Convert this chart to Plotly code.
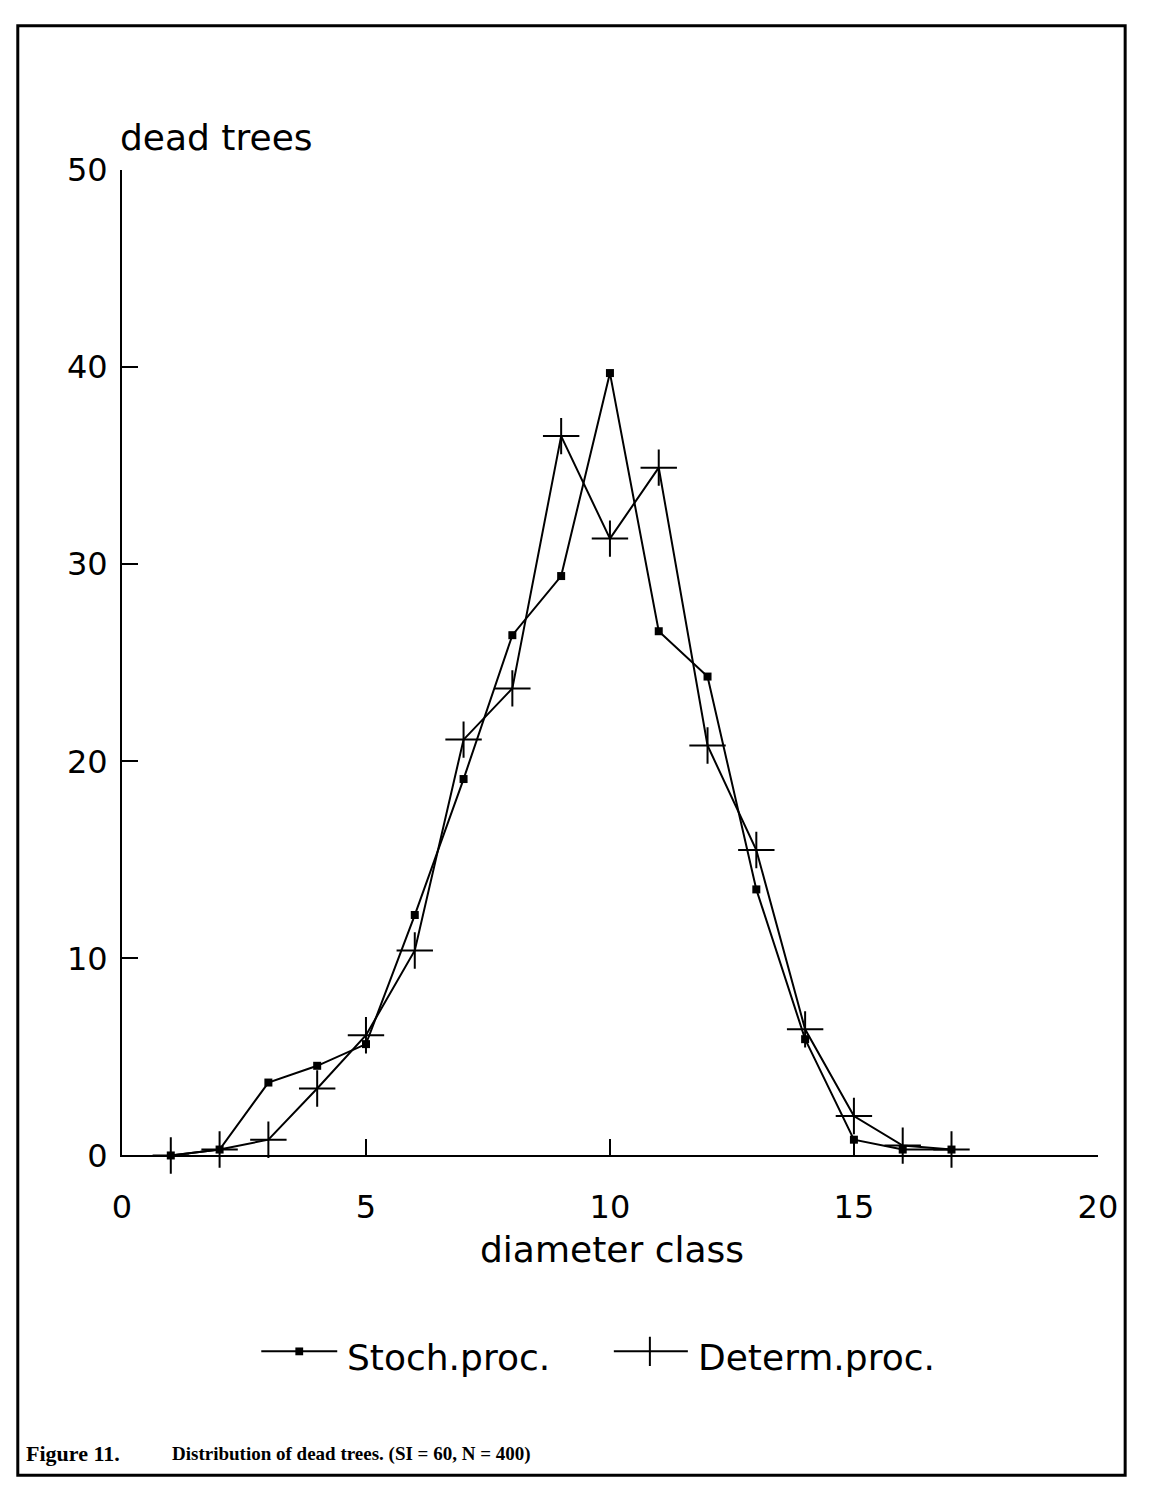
import plotly.graph_objects as go

# Diameter classes and numbers of dead trees per class
diameter_class = list(range(1, 18))
stoch_proc = [0, 0.3, 3.7, 4.55, 5.65, 12.2, 19.1, 26.4, 29.4, 39.7,
              26.6, 24.3, 13.5, 5.9, 0.8, 0.3, 0.3]
determ_proc = [0, 0.3, 0.8, 3.4, 6.1, 10.4, 21.1, 23.7, 36.5, 31.3,
               34.9, 20.8, 15.5, 6.4, 2.0, 0.5, 0.3]

x_ticks = [0, 5, 10, 15, 20]
y_ticks = [0, 10, 20, 30, 40, 50]

W, H = 1151, 1500
FONT = "DejaVu Sans"


def px(x):
    return x / W


def py(y):
    return 1 - y / H


fig = go.Figure()

fig.add_trace(go.Scatter(
    x=diameter_class, y=stoch_proc, mode="lines+markers",
    name="Stoch.proc.",
    line=dict(color="black", width=2),
    marker=dict(symbol="square", size=8, color="black"),
    cliponaxis=False,
))
fig.add_trace(go.Scatter(
    x=diameter_class, y=determ_proc, mode="lines+markers",
    name="Determ.proc.",
    line=dict(color="black", width=2),
    marker=dict(symbol="cross-thin", size=26,
                line=dict(color="black", width=2)),
    cliponaxis=False,
))

axis_common = dict(
    showline=True, linecolor="black", linewidth=2,
    showgrid=False, zeroline=False,
    ticks="inside", ticklen=16, tickwidth=2, tickcolor="black",
    tickfont=dict(family=FONT, size=32, color="black"),
)

fig.update_layout(
    width=W, height=H,
    margin=dict(l=0, r=0, t=0, b=0),
    paper_bgcolor="white", plot_bgcolor="white",
    showlegend=False,
    xaxis=dict(domain=[px(115), px(1117)], range=[0, 20],
               tickvals=x_ticks, ticklabelstandoff=22, **axis_common),
    yaxis=dict(domain=[py(1166), py(155)], range=[0, 50],
               tickvals=y_ticks, ticklabelstandoff=6, **axis_common),
)

# Outer frame around the figure
fig.add_shape(type="rect", xref="paper", yref="paper",
              x0=px(8), x1=px(1145), y0=py(1494), y1=py(7),
              line=dict(color="black", width=3))

# Axis titles
fig.add_annotation(text="dead trees", xref="paper", yref="paper",
                   x=px(111), y=py(122), xanchor="left", yanchor="middle",
                   showarrow=False,
                   font=dict(family=FONT, size=36, color="black"))
fig.add_annotation(text="diameter class", xref="paper", yref="paper",
                   x=px(618), y=py(1262), xanchor="center", yanchor="middle",
                   showarrow=False,
                   font=dict(family=FONT, size=36, color="black"))

# Legend keys drawn below the plot
LEG_Y = 1367
fig.add_shape(type="line", xref="paper", yref="paper",
              x0=px(258), x1=px(336), y0=py(LEG_Y), y1=py(LEG_Y),
              line=dict(color="black", width=2))
fig.add_shape(type="rect", xref="paper", yref="paper",
              x0=px(293), x1=px(301), y0=py(LEG_Y + 4), y1=py(LEG_Y - 4),
              line=dict(color="black", width=0), fillcolor="black")
fig.add_annotation(text="Stoch.proc.", xref="paper", yref="paper",
                   x=px(344), y=py(1373), xanchor="left", yanchor="middle",
                   showarrow=False,
                   font=dict(family=FONT, size=36, color="black"))

fig.add_shape(type="line", xref="paper", yref="paper",
              x0=px(620), x1=px(696), y0=py(LEG_Y), y1=py(LEG_Y),
              line=dict(color="black", width=2))
fig.add_shape(type="line", xref="paper", yref="paper",
              x0=px(657), x1=px(657), y0=py(LEG_Y - 15), y1=py(LEG_Y + 15),
              line=dict(color="black", width=2))
fig.add_annotation(text="Determ.proc.", xref="paper", yref="paper",
                   x=px(704), y=py(1373), xanchor="left", yanchor="middle",
                   showarrow=False,
                   font=dict(family=FONT, size=36, color="black"))

# Figure caption
fig.add_annotation(text="<b>Figure 11.</b>", xref="paper", yref="paper",
                   x=px(14), y=py(1472), xanchor="left", yanchor="middle",
                   showarrow=False,
                   font=dict(family="Liberation Serif", size=22, color="black"))
fig.add_annotation(text="<b>Distribution of dead trees. (SI = 60, N = 400)</b>",
                   xref="paper", yref="paper",
                   x=px(164), y=py(1472), xanchor="left", yanchor="middle",
                   showarrow=False,
                   font=dict(family="Liberation Serif", size=19, color="black"))

fig.write_html("out.html")
